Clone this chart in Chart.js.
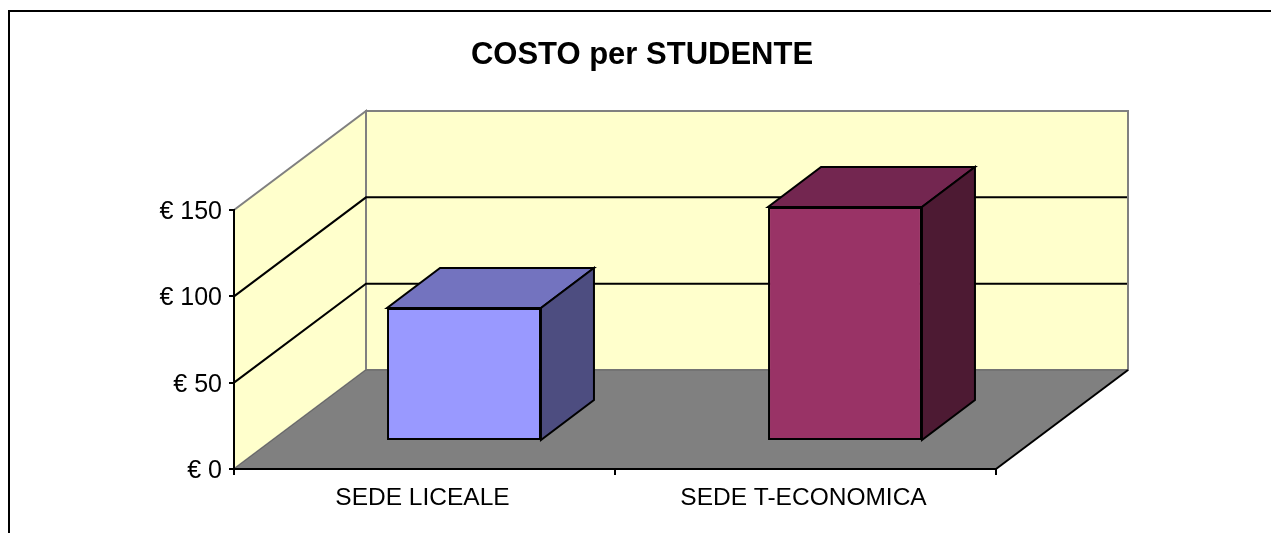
<!DOCTYPE html>
<html>
<head>
<meta charset="utf-8">
<style>
  html, body { margin: 0; padding: 0; background: #fff; }
  #wrap { width: 1271px; height: 533px; }
</style>
<script src="https://cdn.jsdelivr.net/npm/chart.js@4/dist/chart.umd.js"></script>
</head>
<body>
<div id="wrap"><canvas id="myChart" width="1271" height="533"></canvas></div>
<script>
const categories = ['SEDE LICEALE', 'SEDE T-ECONOMICA'];
const costs = [77, 135.5];
const faceColors = ['#9999ff', '#993366'];
const topColors = ['#7373bf', '#732650'];
const sideColors = ['#4d4d80', '#4d1a33'];
const yTicks = [0, 50, 100, 150];

// depth of the fake 3D box
const wallDx = 132, wallDy = -99;
const barShiftX = 39.5, barShiftY = -28;
const barDx = 53, barDy = -40;

function poly(ctx, pts, fill, stroke, lw) {
    ctx.beginPath();
    pts.forEach((p, i) => (i ? ctx.lineTo(p[0], p[1]) : ctx.moveTo(p[0], p[1])));
    ctx.closePath();
    if (fill) {
        ctx.fillStyle = fill;
        ctx.fill();
    }
    if (stroke) {
        ctx.strokeStyle = stroke;
        ctx.lineWidth = lw;
        ctx.lineJoin = 'miter';
        ctx.stroke();
    }
}

const box3d = {
    id: 'box3d',
    beforeDraw(chart) {
        const { ctx, chartArea: a } = chart;
        const y = chart.scales.y;
        ctx.save();
        // outer frame, only top and left show
        ctx.strokeStyle = '#000';
        ctx.lineWidth = 2;
        ctx.beginPath();
        ctx.moveTo(9, 533);
        ctx.lineTo(9, 11);
        ctx.lineTo(1271, 11);
        ctx.stroke();

        // left wall, back wall, floor
        poly(ctx, [[a.left, a.bottom], [a.left, a.top], [a.left + wallDx, a.top + wallDy], [a.left + wallDx, a.bottom + wallDy]], '#ffffcc', '#808080', 2);
        poly(ctx, [[a.left + wallDx, a.top + wallDy], [a.right + wallDx, a.top + wallDy], [a.right + wallDx, a.bottom + wallDy], [a.left + wallDx, a.bottom + wallDy]], '#ffffcc', '#808080', 2);
        poly(ctx, [[a.left, a.bottom], [a.right, a.bottom], [a.right + wallDx, a.bottom + wallDy], [a.left + wallDx, a.bottom + wallDy]], '#808080', '#666666', 1);

        // gridlines run along both walls
        ctx.strokeStyle = '#000';
        ctx.lineWidth = 2;
        yTicks.slice(1, -1).forEach(v => {
            const py = y.getPixelForValue(v);
            ctx.beginPath();
            ctx.moveTo(a.left, py);
            ctx.lineTo(a.left + wallDx, py + wallDy);
            ctx.lineTo(a.right + wallDx - 1, py + wallDy);
            ctx.stroke();
        });

        // right edge of the floor
        ctx.lineWidth = 2;
        ctx.beginPath();
        ctx.moveTo(a.right, a.bottom);
        ctx.lineTo(a.right + wallDx, a.bottom + wallDy);
        ctx.stroke();
        ctx.restore();
    },
    beforeDatasetsDraw(chart) {
        const { ctx } = chart;
        ctx.save();
        ctx.translate(barShiftX, barShiftY);
        chart.getDatasetMeta(0).data.forEach((bar, i) => {
            const { x, y, base, width } = bar.getProps(['x', 'y', 'base', 'width']);
            const l = x - width / 2, r = x + width / 2;
            poly(ctx, [[l, y], [r, y], [r + barDx, y + barDy], [l + barDx, y + barDy]], topColors[i], '#000', 2);
            poly(ctx, [[r, y], [r, base], [r + barDx, base + barDy], [r + barDx, y + barDy]], sideColors[i], '#000', 2);
        });
    },
    afterDatasetsDraw(chart) {
        chart.ctx.restore();
    },
};

new Chart(document.getElementById('myChart').getContext('2d'), {
    type: 'bar',
    data: {
        labels: categories,
        datasets: [{
            data: costs,
            backgroundColor: faceColors,
            borderColor: '#000',
            borderWidth: 2,
            borderSkipped: false,
            categoryPercentage: 1,
            barPercentage: 0.404,
            clip: false,
        }],
    },
    options: {
        responsive: false,
        animation: false,
        layout: { padding: { left: 13, right: 0, top: 0, bottom: 0 } },
        plugins: {
            legend: { display: false },
            tooltip: { enabled: false },
            title: {
                display: true,
                text: 'COSTO per STUDENTE',
                color: '#000',
                font: { family: '"Liberation Sans", Arial, sans-serif', size: 31, weight: 'bold', lineHeight: 1 },
                padding: { top: 40, bottom: 139 },
            },
        },
        scales: {
            x: {
                grid: { drawOnChartArea: false, color: '#000', lineWidth: 2, tickLength: 6 },
                border: { color: '#000', width: 2 },
                ticks: {
                    color: '#000',
                    padding: 9,
                    labelOffset: -2,
                    maxRotation: 0,
                    font: { family: '"Liberation Sans", Arial, sans-serif', size: 24.5 },
                },
                afterFit(scale) { scale.height = 64; },
            },
            y: {
                min: 0,
                max: 150,
                afterBuildTicks(scale) { scale.ticks = yTicks.map(value => ({ value })); },
                grid: { drawOnChartArea: false, color: '#000', lineWidth: 2, tickLength: 5 },
                border: { color: '#000', width: 2 },
                ticks: {
                    color: '#000',
                    padding: 7,
                    labelOffset: 2,
                    callback: v => '€ ' + v,
                    font: { family: '"Liberation Sans", Arial, sans-serif', size: 25 },
                },
                afterFit(scale) { scale.width = 221; },
            },
            // empty axis, keeps the plot off the right side so the title stays centred
            spacer: {
                position: 'right',
                min: 0,
                max: 1,
                grid: { display: false },
                border: { display: false },
                ticks: { display: false },
                afterFit(scale) { scale.width = 275; },
            },
        },
    },
    plugins: [box3d],
});
</script>
</body>
</html>
